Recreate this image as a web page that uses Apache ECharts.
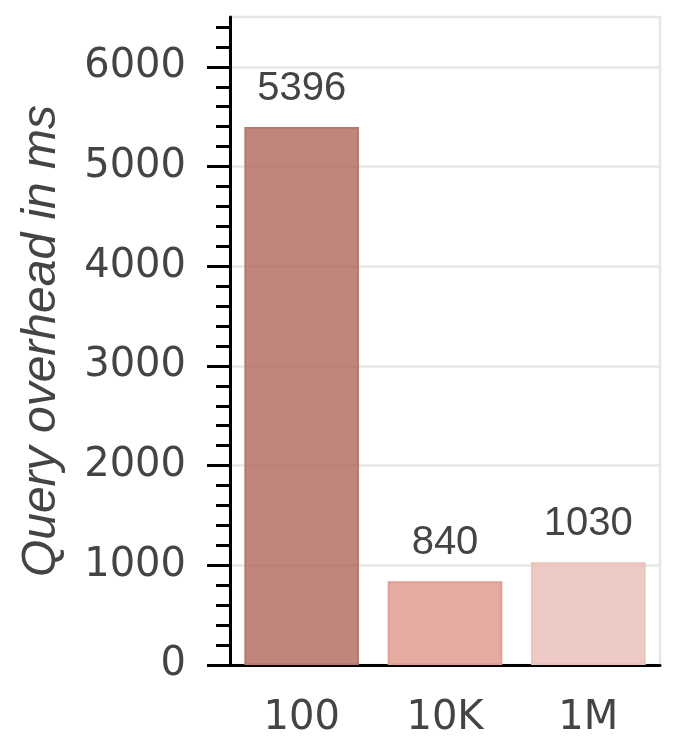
<!DOCTYPE html>
<html>
<head>
<meta charset="utf-8">
<script src="https://cdn.jsdelivr.net/npm/echarts@6/dist/echarts.min.js"></script>
<style>
html,body{margin:0;padding:0;background:#fff;}
#chart{width:678px;height:753px;}
</style>
</head>
<body>
<div id="chart"></div>
<script>
var categories = ['100', '10K', '1M'];
var overheadMs = [5396, 840, 1030];
var majorTicks = [0, 1000, 2000, 3000, 4000, 5000, 6000];
var minorTicks = [200, 400, 600, 800, 1200, 1400, 1600, 1800, 2200, 2400, 2600, 2800,
  3200, 3400, 3600, 3800, 4200, 4400, 4600, 4800, 5200, 5400, 5600, 5800, 6200, 6400];
var yMax = 6500;

var fillColors = ['rgba(176,102,90,0.8)', 'rgba(222,150,137,0.8)', 'rgba(232,190,181,0.8)'];
var borderColors = ['#b9786e', '#e0a092', '#ebc3ba'];

var chart = echarts.init(document.getElementById('chart'), null, {renderer: 'canvas'});
var textColor = '#444444';

chart.setOption({
  animation: false,
  backgroundColor: '#ffffff',
  grid: {
    left: 230, right: 18, top: 17, bottom: 88,
    show: true, borderColor: '#e6e6e6', borderWidth: 2.5
  },
  xAxis: [{
    type: 'category',
    data: categories,
    position: 'bottom',
    axisLine: {lineStyle: {color: '#000', width: 3}},
    axisTick: {alignWithLabel: true, length: 23, lineStyle: {color: '#000', width: 3}},
    axisLabel: {color: textColor, fontFamily: 'DejaVu Sans', fontSize: 40, margin: 34},
    splitLine: {show: false}
  }, {
    type: 'category',
    data: categories,
    position: 'bottom',
    axisLine: {show: false},
    axisTick: {alignWithLabel: true, inside: true, length: 6, lineStyle: {color: '#000', width: 3}},
    axisLabel: {show: false},
    splitLine: {show: false}
  }],
  yAxis: [{
    type: 'value',
    position: 'left',
    min: 0, max: yMax, interval: 1000,
    name: 'Query overhead in ms',
    nameLocation: 'middle',
    nameGap: 164,
    nameTextStyle: {color: textColor, fontFamily: 'Liberation Sans', fontStyle: 'italic', fontSize: 48},
    axisLine: {show: true, lineStyle: {color: '#000', width: 3}},
    axisTick: {show: true, length: 23, customValues: majorTicks, lineStyle: {color: '#000', width: 3}},
    axisLabel: {
      color: textColor, fontFamily: 'DejaVu Sans', fontSize: 40, margin: 44,
      customValues: majorTicks,
      formatter: function (v) { return String(v); }
    },
    splitLine: {show: true, lineStyle: {color: '#e6e6e6', width: 2.5}}
  }, {
    type: 'value',
    position: 'left',
    min: 0, max: yMax, interval: 200,
    axisLine: {show: false},
    axisTick: {show: true, length: 14, customValues: minorTicks, lineStyle: {color: '#000', width: 3}},
    axisLabel: {show: false},
    splitLine: {show: false}
  }],
  series: [{
    type: 'bar',
    xAxisIndex: 0,
    yAxisIndex: 0,
    barWidth: '80%',
    data: overheadMs.map(function (v, i) {
      return {value: v, itemStyle: {color: fillColors[i], borderColor: borderColors[i], borderWidth: 2}};
    }),
    label: {
      show: true, position: 'top', distance: 18,
      color: textColor, fontFamily: 'Liberation Sans', fontSize: 40
    }
  }]
});
</script>
</body>
</html>
